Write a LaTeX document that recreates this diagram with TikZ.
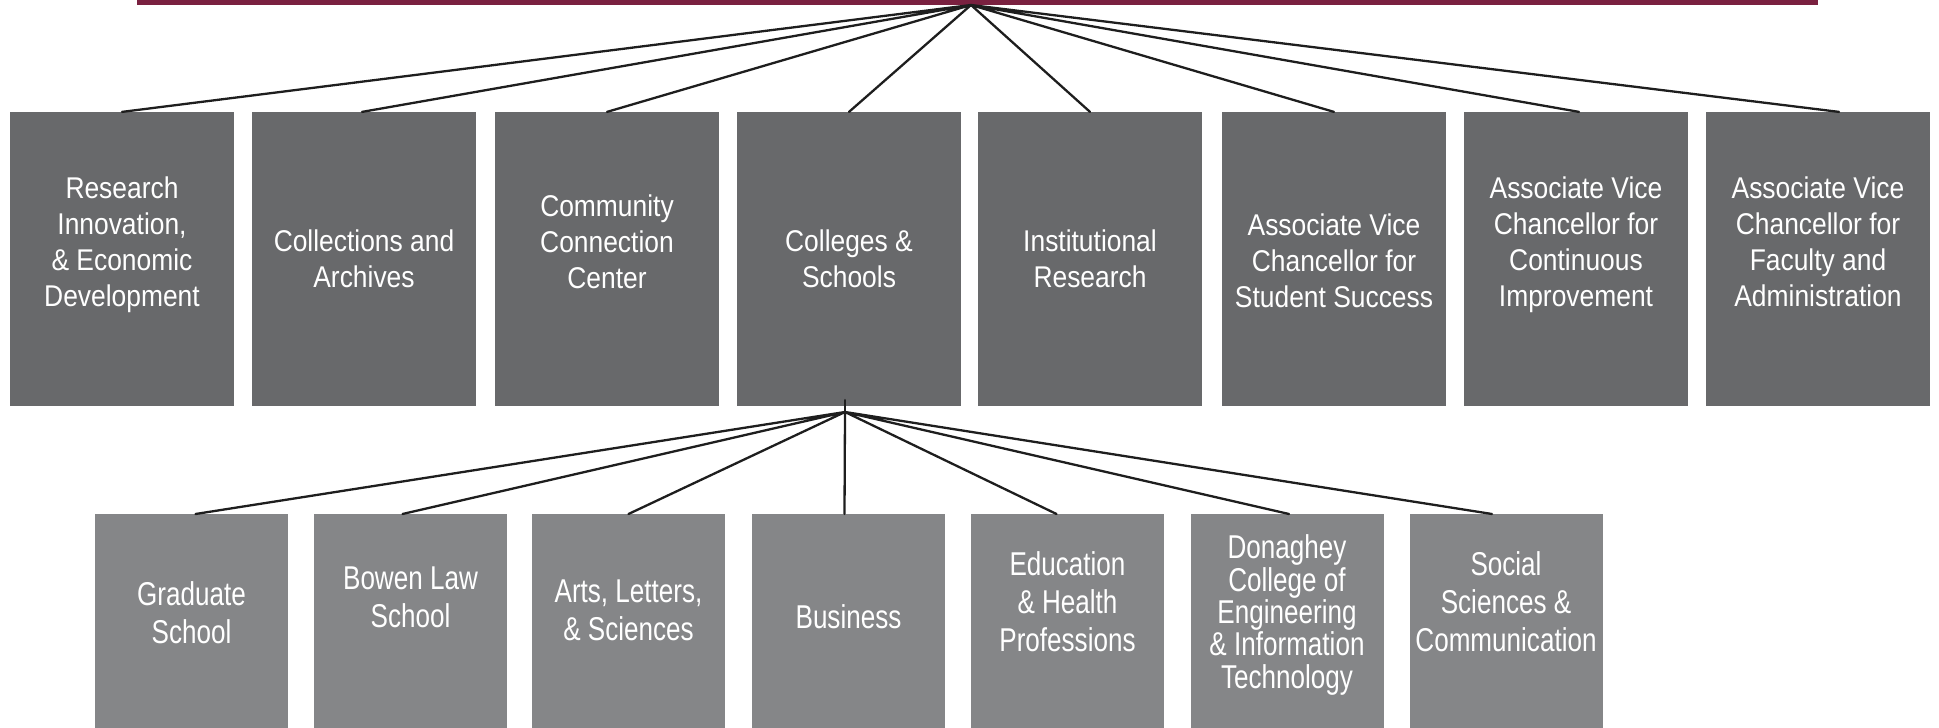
\documentclass[tikz,border=0pt]{standalone}
\usepackage{fontspec}
\setmainfont{Liberation Sans}
\newfontfamily\unitfont{Liberation Sans}[FakeStretch=0.88]
\newfontfamily\collfont{Liberation Sans}[FakeStretch=0.79]
\definecolor{chancred}{HTML}{7A2140}
\definecolor{unitgrey}{HTML}{68696B}
\definecolor{collgrey}{HTML}{858688}
\definecolor{wire}{HTML}{1E1E1E}

\begin{document}
\begin{tikzpicture}[x=0.5pt,y=-0.5pt,line cap=round,line join=round,
    unit/.style={fill=unitgrey,inner sep=0pt,minimum width=112pt,minimum height=146.7pt},
    college/.style={fill=collgrey,inner sep=0pt,anchor=north,minimum width=96.5pt,minimum height=116pt},
    unittext/.style={text=white,align=center,inner sep=0pt,font=\unitfont\fontsize{15}{18}\selectfont},
    colltext/.style={text=white,align=center,inner sep=0pt,font=\collfont\fontsize{16.5}{19}\selectfont},
    link/.style={wire,line width=1.15pt}]
  \useasboundingbox (0,0) rectangle (1939,728);

  % chancellor bar, cut off by the top edge
  \fill[chancred] (137,0) rectangle (1818,4.5);
  \coordinate (hub) at (971,5);
  \coordinate (subhub) at (845,412);

  % units reporting to the chancellor
  \node[unit] (rie) at (122,259) {};
  \node[unittext] (rie-txt) at (122,245) {Research\\Innovation,\\\& Economic\\Development};
  \node[unit] (archives) at (364,259) {};
  \node[unittext] (archives-txt) at (364,259) {Collections and\\Archives};
  \node[unit] (community) at (607,259) {};
  \node[unittext] (community-txt) at (607,242) {Community\\Connection\\Center};
  \node[unit] (colleges) at (849,259) {};
  \node[unittext] (colleges-txt) at (849,259) {Colleges \&\\Schools};
  \node[unit] (instres) at (1090,259) {};
  \node[unittext] (instres-txt) at (1090,259) {Institutional\\Research};
  \node[unit] (avcstudent) at (1334,259) {};
  \node[unittext] (avcstudent-txt) at (1334,261) {Associate Vice\\Chancellor for\\Student Success};
  \node[unit] (avcimprove) at (1576,259) {};
  \node[unittext] (avcimprove-txt) at (1576,245) {Associate Vice\\Chancellor for\\Continuous\\Improvement};
  \node[unit] (avcfaculty) at (1818,259) {};
  \node[unittext] (avcfaculty-txt) at (1818,242) {Associate Vice\\Chancellor for\\Faculty and\\Administration};

  % colleges and schools
  \node[college] (grad) at (191.5,514) {};
  \node[colltext] (grad-txt) at (191.5,613) {Graduate\\School};
  \node[college] (law) at (410.5,514) {};
  \node[colltext] (law-txt) at (410.5,597) {Bowen Law\\School};
  \node[college] (alsci) at (628.5,514) {};
  \node[colltext] (alsci-txt) at (628.5,610) {Arts, Letters,\\\& Sciences};
  \node[college] (business) at (848.5,514) {};
  \node[colltext] (business-txt) at (848.5,617) {Business};
  \node[college] (edhealth) at (1067.5,514) {};
  \node[colltext] (edhealth-txt) at (1067.5,602) {Education\\\& Health\\Professions};
  \node[college] (engit) at (1287,514) {};
  \node[colltext,font=\collfont\fontsize{16.5}{16.2}\selectfont] (engit-txt) at (1287,615)
    {Donaghey\\College of\\Engineering\\\& Information\\Technology};
  \node[college] (socsci) at (1506,514) {};
  \node[colltext] (socsci-txt) at (1506,602) {Social\\Sciences \&\\Communication};

  \draw[link] (hub) -- (rie.north)
    (hub) -- ([xshift=-1pt]archives.north)
    (hub) -- (community.north)
    (hub) -- (colleges.north)
    (hub) -- (instres.north)
    (hub) -- (avcstudent.north)
    (hub) -- ([xshift=1.5pt]avcimprove.north)
    (hub) -- ([xshift=10.5pt]avcfaculty.north);

  \draw[link] ([yshift=3pt]colleges.south -| subhub) -- (subhub);
  \draw[link] (subhub) -- ([xshift=2pt]grad.north)
    (subhub) -- ([xshift=-4pt]law.north)
    (subhub) -- (alsci.north)
    (subhub) -- ([xshift=-2pt]business.north)
    (subhub) -- ([xshift=-5.5pt]edhealth.north)
    (subhub) -- ([xshift=1pt]engit.north)
    (subhub) -- ([xshift=-7pt]socsci.north);
\end{tikzpicture}
\end{document}
